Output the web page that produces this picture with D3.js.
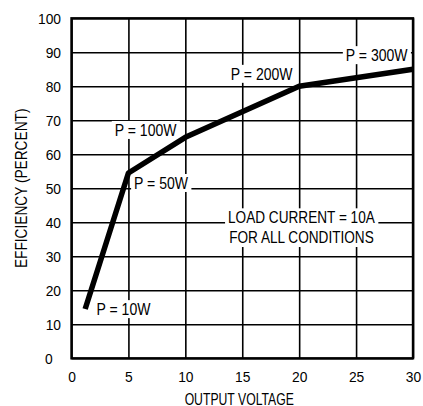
<!DOCTYPE html>
<html>
<head>
<meta charset="utf-8">
<script src="https://cdn.jsdelivr.net/npm/d3@7"></script>
<style>
  html, body { margin: 0; padding: 0; background: #fff; }
  svg { display: block; }
  .narrow { font-family: "Liberation Sans", Arial, sans-serif; }
  .tick text { font-family: "Liberation Sans", Arial, sans-serif; font-size: 15px; fill: #000; }
</style>
</head>
<body>
<svg id="chart" width="423" height="406"></svg>
<script>
// ---- data ----
const voltage = [1.2, 5, 10, 20, 30];
const efficiency = [14.5, 54.5, 65, 80, 85];
const xTicks = [0, 5, 10, 15, 20, 25, 30];
const yTicks = [0, 10, 20, 30, 40, 50, 60, 70, 80, 90, 100];
const labelText = ["P = 10W", "P = 50W", "P = 100W", "P = 200W", "P = 300W"];
const labelX = [2.2, 5.5, 3.8, 14.0, 24.1];
const labelY = [12.7, 49.8, 65.4, 81.9, 87.4];
const noteLines = ["LOAD CURRENT = 10A", "FOR ALL CONDITIONS"];
const xTitle = "OUTPUT VOLTAGE";
const yTitle = "EFFICIENCY (PERCENT)";

// ---- layout ----
const W = 423, H = 406;
const m = { left: 71.5, right: 10, top: 18.3, bottom: 47.7 };
const svg = d3.select("#chart");
const x = d3.scaleLinear().domain([0, 30]).range([m.left, W - m.right]);
const y = d3.scaleLinear().domain([0, 100]).range([H - m.bottom, m.top]);
const pw = x(30) - x(0), ph = y(0) - y(100);

// condense text horizontally (narrow typeface look)
function condense(sel, k) {
  sel.each(function () {
    const len = this.getComputedTextLength();
    d3.select(this).attr("textLength", len * k).attr("lengthAdjust", "spacingAndGlyphs");
  });
}

// grid via axes
const gx = svg.append("g")
  .attr("transform", `translate(0,${y(0)})`)
  .call(d3.axisBottom(x).tickValues(xTicks).tickSize(-ph).tickPadding(12.7).tickFormat(d3.format("d")));
const gy = svg.append("g")
  .attr("transform", `translate(${x(0)},0)`)
  .call(d3.axisLeft(y).tickValues(yTicks).tickSize(-pw).tickPadding(10.5).tickFormat(d3.format("d")));
[gx, gy].forEach(g => {
  g.select(".domain").remove();
  g.selectAll(".tick line").attr("stroke", "#000").attr("stroke-width", 1.6);
  condense(g.selectAll(".tick text"), 0.92);
});
gy.selectAll(".tick").filter(d => d === 0).select("text").attr("text-anchor", "start").attr("x", -26.5);

// plot border
svg.append("rect")
  .attr("x", x(0)).attr("y", y(100)).attr("width", pw).attr("height", ph)
  .attr("fill", "none").attr("stroke", "#000").attr("stroke-width", 2.4);

// annotations with white backgrounds
const ann = svg.append("g").attr("class", "narrow");
function boxedText(g, lines, px, py, anchor, size, lh, k) {
  const gg = g.append("g");
  const bg = gg.append("rect").attr("fill", "#fff");
  const texts = lines.map((s, i) => gg.append("text")
    .attr("x", px).attr("y", py + i * lh)
    .attr("text-anchor", anchor).attr("font-size", size).attr("fill", "#000")
    .text(s));
  texts.forEach(t => condense(t, k));
  const boxes = texts.map(t => t.node().getBBox());
  const x0 = d3.min(boxes, b => b.x), x1 = d3.max(boxes, b => b.x + b.width);
  const y0 = d3.min(boxes, b => b.y), y1 = d3.max(boxes, b => b.y + b.height);
  bg.attr("x", x0 - 3).attr("y", y0).attr("width", x1 - x0 + 6).attr("height", y1 - y0);
}

labelText.forEach((s, i) => boxedText(ann, [s], x(labelX[i]), y(labelY[i]), "start", 16.5, 0, 0.85));
boxedText(ann, noteLines, x(20.2), y(39.7), "middle", 17, 19.7, 0.8);

// curve
const line = d3.line().x((d, i) => x(voltage[i])).y((d, i) => y(efficiency[i]));
svg.append("path")
  .datum(efficiency)
  .attr("d", line)
  .attr("fill", "none").attr("stroke", "#000").attr("stroke-width", 5.5)
  .attr("stroke-linejoin", "round").attr("stroke-linecap", "butt");

// axis titles
const xt = svg.append("text").attr("class", "narrow")
  .attr("x", (x(0) + x(30)) / 2 - 3).attr("y", 404.5)
  .attr("text-anchor", "middle").attr("font-size", 16.5).attr("fill", "#000")
  .text(xTitle);
condense(xt, 0.74);
const yt = svg.append("text").attr("class", "narrow")
  .attr("transform", `translate(27,${(y(0) + y(100)) / 2}) rotate(-90)`)
  .attr("text-anchor", "middle").attr("font-size", 16.5).attr("fill", "#000")
  .text(yTitle);
condense(yt, 0.83);
</script>
</body>
</html>
